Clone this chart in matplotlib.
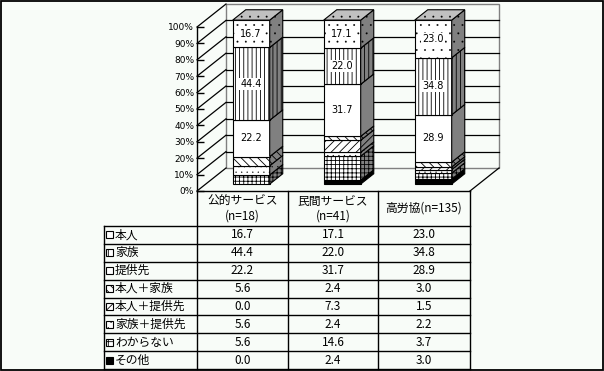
import matplotlib.pyplot as plt
from matplotlib.patches import Polygon, Rectangle

plt.rcParams['font.family'] = ['Noto Sans CJK JP', 'DejaVu Sans']
plt.rcParams['hatch.linewidth'] = 0.6

# data (percent)
groups = ['公的サービス\n(n=18)', '民間サービス\n(n=41)', '高労協(n=135)']
series = ['本人', '家族', '提供先', '本人＋家族', '本人＋提供先', '家族＋提供先', 'わからない', 'その他']
honnin = [16.7, 17.1, 23.0]
kazoku = [44.4, 22.0, 34.8]
teikyo = [22.2, 31.7, 28.9]
honnin_kazoku = [5.6, 2.4, 3.0]
honnin_teikyo = [0.0, 7.3, 1.5]
kazoku_teikyo = [5.6, 2.4, 2.2]
wakaranai = [5.6, 14.6, 3.7]
sonota = [0.0, 2.4, 3.0]
values = [honnin, kazoku, teikyo, honnin_kazoku, honnin_teikyo,
          kazoku_teikyo, wakaranai, sonota]
labelled = ['本人', '家族', '提供先']

hatches = ['..', '||||', '', r'\\\\', '////', '...', '++++', '']
icon_hatches = ['', '|||', '', r'\\\\', '////', '...', '+++', '']
faces = ['white'] * 7 + ['black']
sides = ['#808080'] * 7 + ['black']


def hatch_lw(h):
    # finer pen for the dotted patterns
    return 0.15 if '.' in h else 0.6


BG = '#f8fcf8'
W, H = 604, 371
fig = plt.figure(figsize=(W / 100, H / 100), dpi=100, facecolor=BG)

# full-figure axes in pixel units: frame + table
base = fig.add_axes([0, 0, 1, 1])
base.set_xlim(0, W)
base.set_ylim(H, 0)
base.axis('off')
base.add_patch(Rectangle((0.6, 0.6), W - 1.8, H - 1.8, fill=False, lw=1.3, ec='black'))

cols = [197, 288, 378, 470]
left = 104
head_top = 191
body_top = 225.7
row_h = 17.95
bottom = body_top + row_h * len(series)

for x in cols:
    base.plot([x, x], [head_top, bottom], color='black', lw=1)
base.plot([cols[0], cols[-1]], [head_top, head_top], color='black', lw=1)
base.plot([left, left], [body_top, bottom], color='black', lw=1)
for k in range(len(series) + 1):
    y = body_top + k * row_h
    base.plot([left, cols[-1]], [y, y], color='black', lw=1)

for i, g in enumerate(groups):
    cx = (cols[i] + cols[i + 1]) / 2
    base.text(cx, (head_top + body_top) / 2, g, ha='center', va='center',
              fontsize=8.5, linespacing=1.15)

for k, name in enumerate(series):
    cy = body_top + (k + 0.5) * row_h
    with plt.rc_context({'hatch.linewidth': hatch_lw(icon_hatches[k])}):
        base.add_patch(Rectangle((106, cy - 3.5), 7, 7, facecolor=faces[k],
                                 hatch=icon_hatches[k], ec='black', lw=0.8))
    base.text(115, cy, name, ha='left', va='center', fontsize=8.5)
    for i in range(len(groups)):
        cx = (cols[i] + cols[i + 1]) / 2
        base.text(cx, cy, f'{values[k][i]:.1f}', ha='center', va='center', fontsize=8.5)

# chart axes: front plane of the 3d box
ax = fig.add_axes([cols[0] / W, 1 - 191 / H, (cols[-1] - cols[0]) / W, 164 / H])
ax.set_xlim(-0.5, 2.5)
ax.set_ylim(0, 100)
ax.patch.set_visible(False)
for s in ['top', 'right', 'bottom']:
    ax.spines[s].set_visible(False)
ax.spines['left'].set_linewidth(1)
ax.set_xticks([])
ticks = list(range(0, 101, 10))
ax.set_yticks(ticks)
ax.set_yticklabels([f'{t}%' for t in ticks], fontsize=6.5, family='DejaVu Sans')
ax.tick_params(axis='y', direction='in', length=5, pad=2, width=1)

ppx = (cols[-1] - cols[0]) / 3
ppy = 164 / 100


def off(d):
    return 29 * d / ppx, 23 * d / ppy


bx, by = off(1)
ax.add_patch(Polygon([(-0.5 + bx, by), (2.5 + bx, by), (2.5 + bx, 100 + by),
                      (-0.5 + bx, 100 + by)], closed=True, fill=False,
                     ec='#808080', lw=1, clip_on=False, zorder=1))
for t in ticks:
    if 0 < t < 100:
        ax.plot([-0.5 + bx, 2.5 + bx], [t + by, t + by], color='black', lw=0.9,
                clip_on=False, zorder=1)
    ax.plot([-0.5, -0.5 + bx], [t, t + by], color='black', lw=0.9,
            clip_on=False, zorder=1)
ax.plot([2.5, 2.5 + bx], [0, by], color='black', lw=0.9, clip_on=False, zorder=1)

fx, fy = off(0.3)
sx, sy = off(0.45)
w = 37 / ppx
for i in range(len(groups)):
    total = sum(v[i] for v in values)
    cum = 0
    xl = i + fx - w / 2
    xr = i + fx + w / 2
    for k in reversed(range(len(series))):
        v = values[k][i] * 100 / total
        if v == 0:
            continue
        with plt.rc_context({'hatch.linewidth': hatch_lw(hatches[k])}):
            ax.bar(i + fx, v, w, bottom=cum + fy, color=faces[k], hatch=hatches[k],
                   edgecolor='black', lw=0.8, clip_on=False, zorder=3)
            ax.add_patch(Polygon([(xr, cum + fy), (xr + sx, cum + fy + sy),
                                  (xr + sx, cum + v + fy + sy), (xr, cum + v + fy)],
                                 closed=True, facecolor=sides[k], hatch=hatches[k],
                                 ec='black', lw=0.8, clip_on=False, zorder=3))
        if series[k] in labelled:
            ax.text(i + fx, cum + fy + v / 2, f'{values[k][i]:.1f}', ha='center',
                    va='center', fontsize=7, family='DejaVu Sans', zorder=5,
                    bbox=dict(facecolor='white', edgecolor='none', pad=0.8))
        cum += v
    with plt.rc_context({'hatch.linewidth': hatch_lw(hatches[0])}):
        ax.add_patch(Polygon([(xl, 100 + fy), (xr, 100 + fy), (xr + sx, 100 + fy + sy),
                              (xl + sx, 100 + fy + sy)], closed=True, facecolor='#c0c0c0',
                             hatch=hatches[0], ec='black', lw=0.8, clip_on=False, zorder=3))

fig.savefig('out.png', dpi=100, facecolor=BG)
